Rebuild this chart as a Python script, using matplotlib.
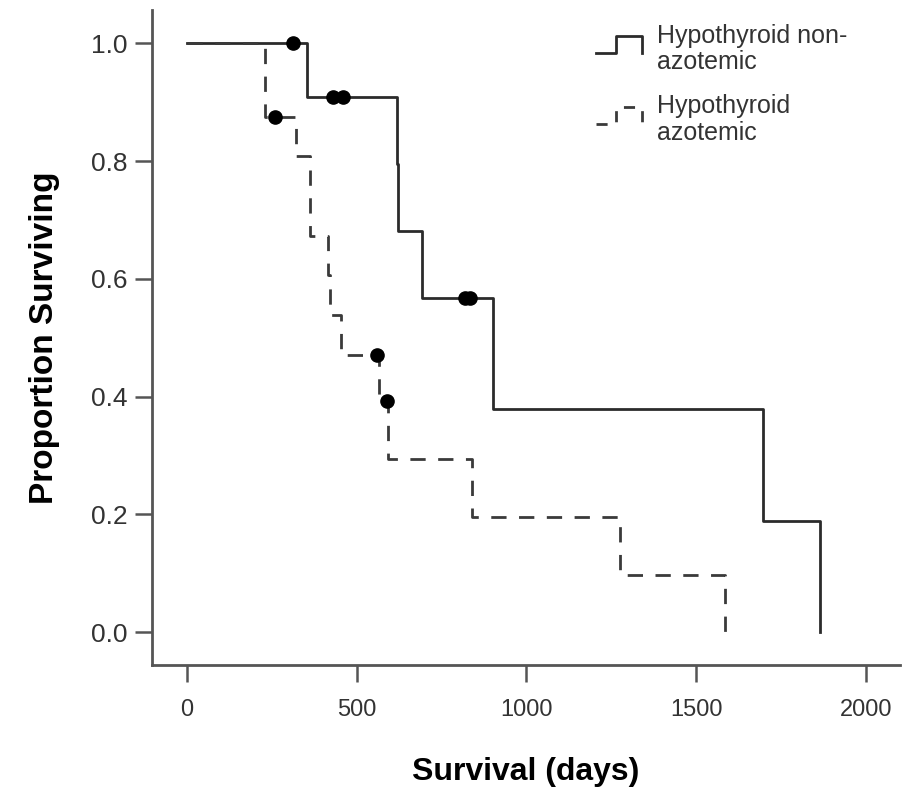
import numpy as np
import matplotlib
matplotlib.use('Agg')
import matplotlib.pyplot as plt
from matplotlib.legend_handler import HandlerBase
from matplotlib.lines import Line2D

# Kaplan-Meier curves (days, proportion surviving)
# hypothyroid non-azotemic
t_non = [0, 353, 619, 622, 692, 901, 1697, 1865]
s_non = [1.0, 0.909, 0.795, 0.682, 0.568, 0.379, 0.189, 0.0]
cens_t_non = [312, 430, 460, 819, 834]
cens_s_non = [1.0, 0.909, 0.909, 0.568, 0.568]

# hypothyroid azotemic
t_az = [0, 230, 321, 362, 415, 421, 454, 566, 592, 839, 1275, 1585]
s_az = [1.0, 0.875, 0.808, 0.673, 0.606, 0.539, 0.471, 0.393, 0.294, 0.196, 0.098, 0.0]
cens_t_az = [259, 560, 589]
cens_s_az = [0.875, 0.471, 0.393]

labels = ['Hypothyroid non-\nazotemic', 'Hypothyroid\nazotemic']
xticks = [0, 500, 1000, 1500, 2000]
yticks = [0.0, 0.2, 0.4, 0.6, 0.8, 1.0]

plt.rcParams['font.family'] = ['Liberation Sans', 'DejaVu Sans']

def km_path(t, s):
    # step coordinates: horizontal then vertical drop at each event
    xs = [t[0]]; ys = [s[0]]
    for i in range(1, len(t)):
        xs += [t[i], t[i]]
        ys += [s[i-1], s[i]]
    return xs, ys


class StepHandler(HandlerBase):
    def __init__(self, dashed):
        self.dashed = dashed
        super().__init__()

    def create_artists(self, legend, orig_handle, xdescent, ydescent,
                       width, height, fontsize, trans):
        x0 = -xdescent; y0 = -ydescent
        xs = [x0, x0 + 0.45*width, x0 + 0.45*width, x0 + width, x0 + width]
        ys = [y0 + 0.3*height, y0 + 0.3*height, y0 + 1.3*height, y0 + 1.3*height, y0 + 0.3*height]
        ln = Line2D(xs, ys, color=orig_handle.get_color(), lw=orig_handle.get_linewidth(),
                    transform=trans)
        if self.dashed:
            ln.set_dashes((4, 4))
        return [ln]


fig = plt.figure(figsize=(9.06, 7.91), dpi=100)
ax = fig.add_axes([0.168, 0.159, 0.825, 0.828])

x1, y1 = km_path(t_non, s_non)
l1, = ax.plot(x1, y1, '-', color='#2b2b2b', lw=2.0)
x2, y2 = km_path(t_az, s_az)
l2, = ax.plot(x2, y2, color='#3a3a3a', lw=2.0, linestyle=(0, (5.5, 4.5)))
ax.plot(cens_t_non, cens_s_non, 'o', color='black', ms=9.5, zorder=5)
ax.plot(cens_t_az, cens_s_az, 'o', color='black', ms=9.5, zorder=5)

ax.set_xlim(-103, 2100)
ax.set_ylim(-0.056, 1.056)
ax.set_xticks(xticks)
ax.set_xticklabels([str(v) for v in xticks])
ax.set_yticks(yticks)
ax.set_yticklabels(['%.1f' % v for v in yticks])

for side in ['top', 'right']:
    ax.spines[side].set_visible(False)
for side in ['left', 'bottom']:
    ax.spines[side].set_color('#555555')
    ax.spines[side].set_linewidth(2)
ax.tick_params(axis='both', length=12, width=1.8, color='#555555',
               labelsize=17, labelcolor='#333333', pad=6)
ax.tick_params(axis='x', pad=12)
ax.tick_params(axis='y', labelsize=19)

ax.set_xlabel('Survival (days)', fontsize=23, fontweight='bold', labelpad=26)
ax.set_ylabel('Proportion Surviving', fontsize=24, fontweight='bold', labelpad=22)

leg = ax.legend([l1, l2], labels, loc='upper left',
                bbox_to_anchor=(578/906, 1 - 6/791), bbox_transform=fig.transFigure,
                frameon=False, fontsize=18, handlelength=1.85, labelspacing=0.8,
                handletextpad=0.6, labelcolor='#333333', borderpad=0.2,
                handler_map={l1: StepHandler(False), l2: StepHandler(True)})
for txt in leg.get_texts():
    txt.set_linespacing(1.15)

fig.savefig('out.png', dpi=100)
